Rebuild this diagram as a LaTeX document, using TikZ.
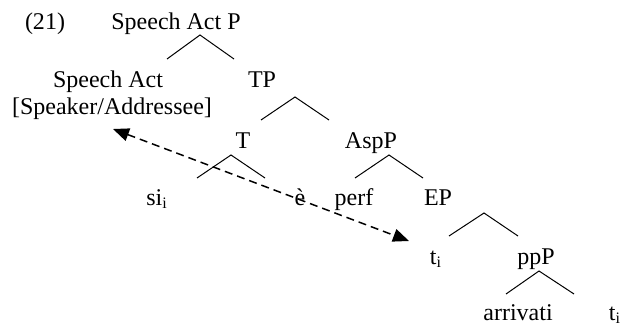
\documentclass[tikz,border=0pt]{standalone}
\usepackage{fontspec}
\setmainfont{Liberation Serif}
\usetikzlibrary{arrows.meta}

\begin{document}
\begin{tikzpicture}[x=0.5pt, y=-0.5pt, font=\fontsize{12}{14}\selectfont,
	lab/.style={anchor=base, inner sep=0pt},
	branch/.style={line width=0.5pt},
	move/.style={line width=0.75pt, dash pattern=on 4pt off 2.5pt,
		{Triangle[length=8pt,width=6.5pt]}-{Triangle[length=8pt,width=6.5pt]}}]
	\useasboundingbox (0,0) rectangle (624,326);

	\node[lab] (ex) at (45,30) {(21)};						% example number
	\node[lab] (sap) at (176,30) {Speech Act P};				% labels
	\node[lab] (sa) at (108,87) {Speech Act};
	\node[lab] (saf) at (112,114) {[Speaker/Addressee]};
	\node[lab] (tp) at (262,87) {TP};
	\node[lab] (t) at (243,148) {T};
	\node[lab] (aspp) at (371,148) {AspP};
	\node[lab] (si) at (157,205) {si\textsubscript{i}};
	\node[lab] (e) at (300,205) {è};
	\node[lab] (perf) at (354,205) {perf};
	\node[lab] (ep) at (438,205) {EP};
	\node[lab] (ti) at (436,264) {t\textsubscript{i}};
	\node[lab] (ppp) at (536,264) {ppP};
	\node[lab] (arr) at (518,320) {arrivati};
	\node[lab] (tii) at (615,320) {t\textsubscript{i}};

	\draw[branch] (167,59) -- (200,35) -- (234,59);			% branches
	\draw[branch] (261,120) -- (295,97) -- (329,120);
	\draw[branch] (197,178) -- (231,155) -- (265,178);
	\draw[branch] (355,178) -- (389,155) -- (423,178);
	\draw[branch] (449,236) -- (484,213) -- (518,236);
	\draw[branch] (506,294) -- (539,271) -- (574,294);

	\coordinate (up) at (113,129);							% movement
	\coordinate (down) at (409,241);
	\draw[move] (up) -- (down);
\end{tikzpicture}
\end{document}
